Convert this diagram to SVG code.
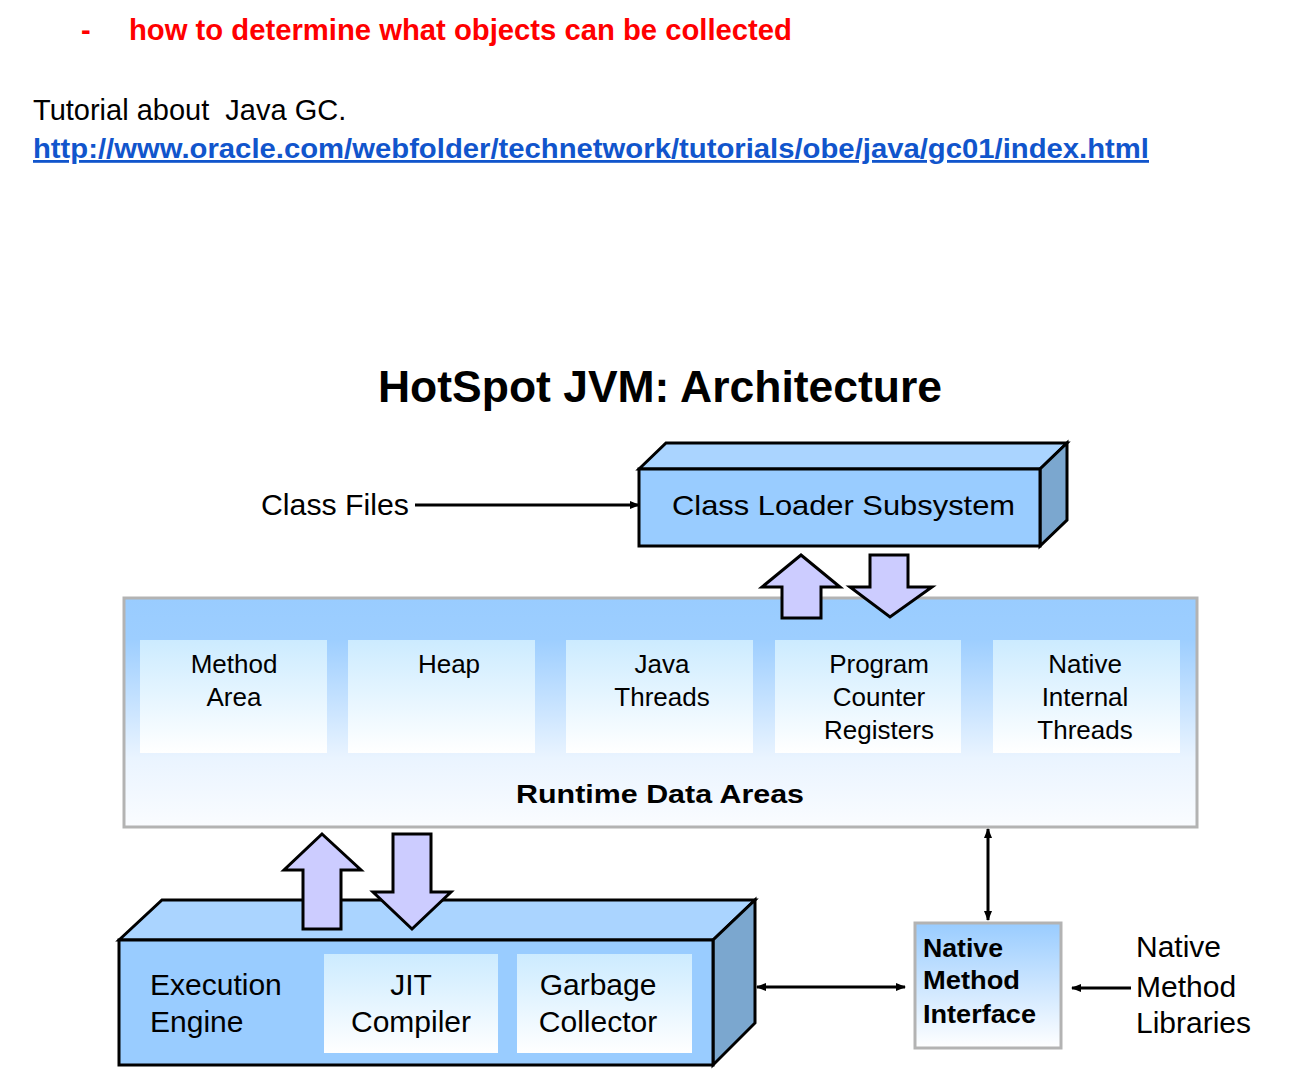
<svg xmlns="http://www.w3.org/2000/svg" width="1292" height="1084" viewBox="0 0 1292 1084">
<defs>
  <linearGradient id="gRuntime" x1="0" y1="0" x2="0" y2="1">
    <stop offset="0" stop-color="#99CCFF"/>
    <stop offset="0.18" stop-color="#9DCEFF"/>
    <stop offset="0.7" stop-color="#EAF4FF"/>
    <stop offset="1" stop-color="#FAFCFF"/>
  </linearGradient>
  <linearGradient id="gInner" x1="0" y1="0" x2="0" y2="1">
    <stop offset="0" stop-color="#CCEBFF"/>
    <stop offset="1" stop-color="#FFFFFF"/>
  </linearGradient>
  <linearGradient id="gNmi" x1="0" y1="0" x2="0" y2="1">
    <stop offset="0" stop-color="#99CCFF"/>
    <stop offset="1" stop-color="#FFFFFF"/>
  </linearGradient>
  <marker id="ah" viewBox="0 0 10 8" refX="9" refY="4" markerWidth="10" markerHeight="8" markerUnits="userSpaceOnUse" orient="auto-start-reverse">
    <path d="M0,0 L10,4 L0,8 z" fill="#000"/>
  </marker>
</defs>
<style>
  text { font-family: "Liberation Sans", Arial, sans-serif; fill: #000; }
  .b { font-weight: bold; }
  .lbl { font-size: 26px; text-anchor: middle; }
  .big { font-size: 30px; }
  .nmi { font-size: 25px; font-weight: bold; }
  .front { fill: #99CCFF; stroke: #000; stroke-width: 3; stroke-linejoin: miter; }
  .top { fill: #AAD4FF; stroke: #000; stroke-width: 3; stroke-linejoin: miter; }
  .side { fill: #7BA7CF; stroke: #000; stroke-width: 3; stroke-linejoin: miter; }
  .inner { fill: url(#gInner); }
  .grayframe { stroke: #B3B3B3; stroke-width: 3; }
  .block { fill: #CCCCFF; stroke: #000; stroke-width: 3; stroke-linejoin: miter; }
  .conn { stroke: #000; stroke-width: 3; fill: none; }
</style>

<g id="header">
  <text x="81" y="40" class="b" style="font-size:29px;fill:#FF0000">-</text>
  <text x="129" y="40" class="b" style="font-size:29px;fill:#FF0000" textLength="663" lengthAdjust="spacingAndGlyphs">how to determine what objects can be collected</text>
  <text x="33" y="120" style="font-size:29px;white-space:pre" xml:space="preserve">Tutorial about  Java GC.</text>
  <text x="33" y="158" class="b" style="font-size:28px;fill:#1155CC;text-decoration:underline" textLength="1116" lengthAdjust="spacingAndGlyphs">http://www.oracle.com/webfolder/technetwork/tutorials/obe/java/gc01/index.html</text>
</g>

<g id="title">
  <text x="378" y="402" class="b" style="font-size:45px" textLength="564" lengthAdjust="spacingAndGlyphs">HotSpot JVM: Architecture</text>
</g>

<g id="class-files">
  <text x="261" y="515" class="big" textLength="148" lengthAdjust="spacingAndGlyphs">Class Files</text>
</g>

<g id="class-loader">
  <polygon class="top" points="639,469 666,443 1067,443 1040,469"/>
  <polygon class="side" points="1040,469 1067,443 1067,520 1040,546"/>
  <rect class="front" x="639" y="469" width="401" height="77"/>
  <text x="672" y="515" style="font-size:28px" textLength="343" lengthAdjust="spacingAndGlyphs">Class Loader Subsystem</text>
</g>

<g id="runtime-data-areas">
  <rect x="124" y="598" width="1073" height="229" fill="url(#gRuntime)" class="grayframe"/>
  <text x="660" y="803" class="b" style="font-size:26px;text-anchor:middle" textLength="288" lengthAdjust="spacingAndGlyphs">Runtime Data Areas</text>
</g>

<g id="method-area">
  <rect class="inner" x="140" y="640" width="187" height="113"/>
  <text class="lbl" x="234" y="673">Method</text>
  <text class="lbl" x="234" y="706">Area</text>
</g>
<g id="heap">
  <rect class="inner" x="348" y="640" width="187" height="113"/>
  <text class="lbl" x="449" y="673">Heap</text>
</g>
<g id="java-threads">
  <rect class="inner" x="566" y="640" width="187" height="113"/>
  <text class="lbl" x="662" y="673">Java</text>
  <text class="lbl" x="662" y="706">Threads</text>
</g>
<g id="pc-registers">
  <rect class="inner" x="775" y="640" width="186" height="113"/>
  <text class="lbl" x="879" y="673">Program</text>
  <text class="lbl" x="879" y="706">Counter</text>
  <text class="lbl" x="879" y="739">Registers</text>
</g>
<g id="native-internal-threads">
  <rect class="inner" x="993" y="640" width="187" height="113"/>
  <text class="lbl" x="1085" y="673">Native</text>
  <text class="lbl" x="1085" y="706">Internal</text>
  <text class="lbl" x="1085" y="739">Threads</text>
</g>

<g id="execution-engine">
  <polygon class="top" points="119,940 162,900 755,900 713,940"/>
  <polygon class="side" points="713,940 755,900 755,1023 713,1065"/>
  <rect class="front" x="119" y="940" width="594" height="125"/>
  <text x="150" y="995" class="big">Execution</text>
  <text x="150" y="1032" class="big">Engine</text>
</g>
<g id="jit-compiler">
  <rect class="inner" x="324" y="954" width="174" height="99"/>
  <text x="411" y="995" class="big" style="text-anchor:middle">JIT</text>
  <text x="411" y="1032" class="big" style="text-anchor:middle">Compiler</text>
</g>
<g id="garbage-collector">
  <rect class="inner" x="517" y="954" width="175" height="99"/>
  <text x="598" y="995" class="big" style="text-anchor:middle">Garbage</text>
  <text x="598" y="1032" class="big" style="text-anchor:middle">Collector</text>
</g>

<g id="native-method-interface">
  <rect x="915" y="923" width="146" height="125" fill="url(#gNmi)" class="grayframe"/>
  <text x="923" y="957" class="nmi" textLength="80" lengthAdjust="spacingAndGlyphs">Native</text>
  <text x="923" y="989" class="nmi" textLength="97" lengthAdjust="spacingAndGlyphs">Method</text>
  <text x="923" y="1023" class="nmi" textLength="113" lengthAdjust="spacingAndGlyphs">Interface</text>
</g>

<g id="native-method-libraries">
  <text x="1136" y="957" class="big">Native</text>
  <text x="1136" y="997" class="big">Method</text>
  <text x="1136" y="1033" class="big">Libraries</text>
</g>

<g id="connectors">
  <line class="conn" x1="415" y1="505" x2="639" y2="505" marker-end="url(#ah)"/>
  <line class="conn" x1="988" y1="829" x2="988" y2="920" marker-start="url(#ah)" marker-end="url(#ah)"/>
  <line class="conn" x1="757" y1="987" x2="905" y2="987" marker-start="url(#ah)" marker-end="url(#ah)"/>
  <line class="conn" x1="1131" y1="988" x2="1072" y2="988" marker-end="url(#ah)"/>
  <polygon class="block" points="801,555 840,587 821,587 821,618 782,618 782,587 762,587"/>
  <polygon class="block" points="870,555 908,555 908,587 932,587 890,617 850,587 870,587"/>
  <polygon class="block" points="322,834 361,870 341,870 341,929 303,929 303,870 284,870"/>
  <polygon class="block" points="393,834 431,834 431,892 451,892 412,929 373,892 393,892"/>
</g>
</svg>
